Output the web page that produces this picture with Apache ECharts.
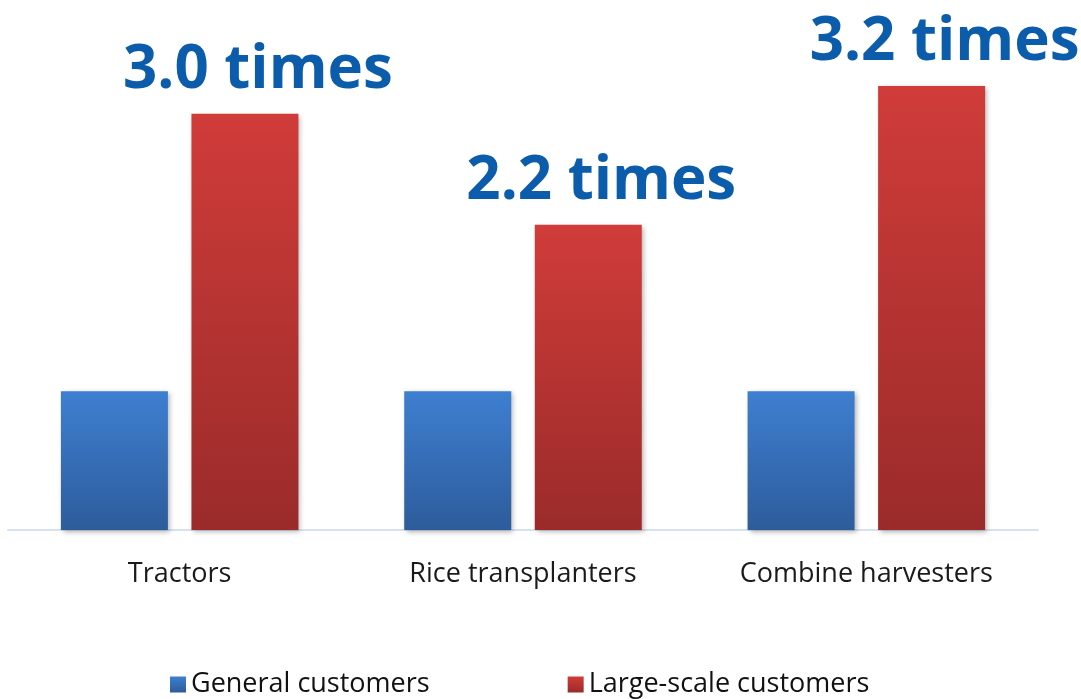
<!DOCTYPE html>
<html><head><meta charset="utf-8">
<script src="https://cdn.jsdelivr.net/npm/echarts@6/dist/echarts.min.js"></script>
<style>html,body{margin:0;padding:0;background:#fff}#c{width:1081px;height:699px}</style>
</head><body><div id="c"></div>
<script>
const categories = ['Tractors', 'Rice transplanters', 'Combine harvesters'];
const generalValues = [1.0, 1.0, 1.0];
const largeValues = [3.0, 2.2, 3.2];
const ratioLabels = ['3.0 times', '2.2 times', '3.2 times'];
const seriesNames = ['General customers', 'Large-scale customers'];

const font = '"Open Sans", "Noto Sans", sans-serif';
const chart = echarts.init(document.getElementById('c'));
const grad = (a, b) => new echarts.graphic.LinearGradient(0, 0, 0, 1, [{offset: 0, color: a}, {offset: 1, color: b}]);
chart.setOption({
  animation: false,
  grid: {left: 8, right: 43, top: 86, bottom: 169, containLabel: false},
  legend: {
    bottom: -4, left: 165, itemWidth: 16, itemHeight: 16, itemGap: 138, icon: 'rect',
    textStyle: {fontSize: 27, color: '#111', fontFamily: font},
    data: seriesNames
  },
  xAxis: {
    type: 'category', data: categories,
    axisLine: {lineStyle: {color: '#d5e2f0', width: 2}},
    axisTick: {show: false},
    axisLabel: {fontSize: 27, color: '#1a1a1a', margin: 31, fontFamily: font}
  },
  yAxis: {type: 'value', min: 0, max: 3.2, show: false, splitLine: {show: false}},
  series: [
    {
      name: seriesNames[0], type: 'bar', data: generalValues,
      barWidth: 107, barGap: '22%',
      itemStyle: {color: grad('#3e7fd1', '#2d5c9b'), shadowBlur: 5, shadowOffsetX: 2, shadowOffsetY: 2, shadowColor: 'rgba(0,0,0,0.3)'}
    },
    {
      name: seriesNames[1], type: 'bar', data: largeValues,
      barWidth: 107,
      itemStyle: {color: grad('#d03c39', '#9a2b2a'), shadowBlur: 5, shadowOffsetX: 2, shadowOffsetY: 2, shadowColor: 'rgba(0,0,0,0.3)'},
      label: {
        show: true, position: 'top', distance: 13, offset: [13, 0],
        formatter: p => ratioLabels[p.dataIndex],
        fontSize: 60, fontWeight: 'bold', color: '#0b5cab', fontFamily: font
      }
    }
  ]
});
</script></body></html>
